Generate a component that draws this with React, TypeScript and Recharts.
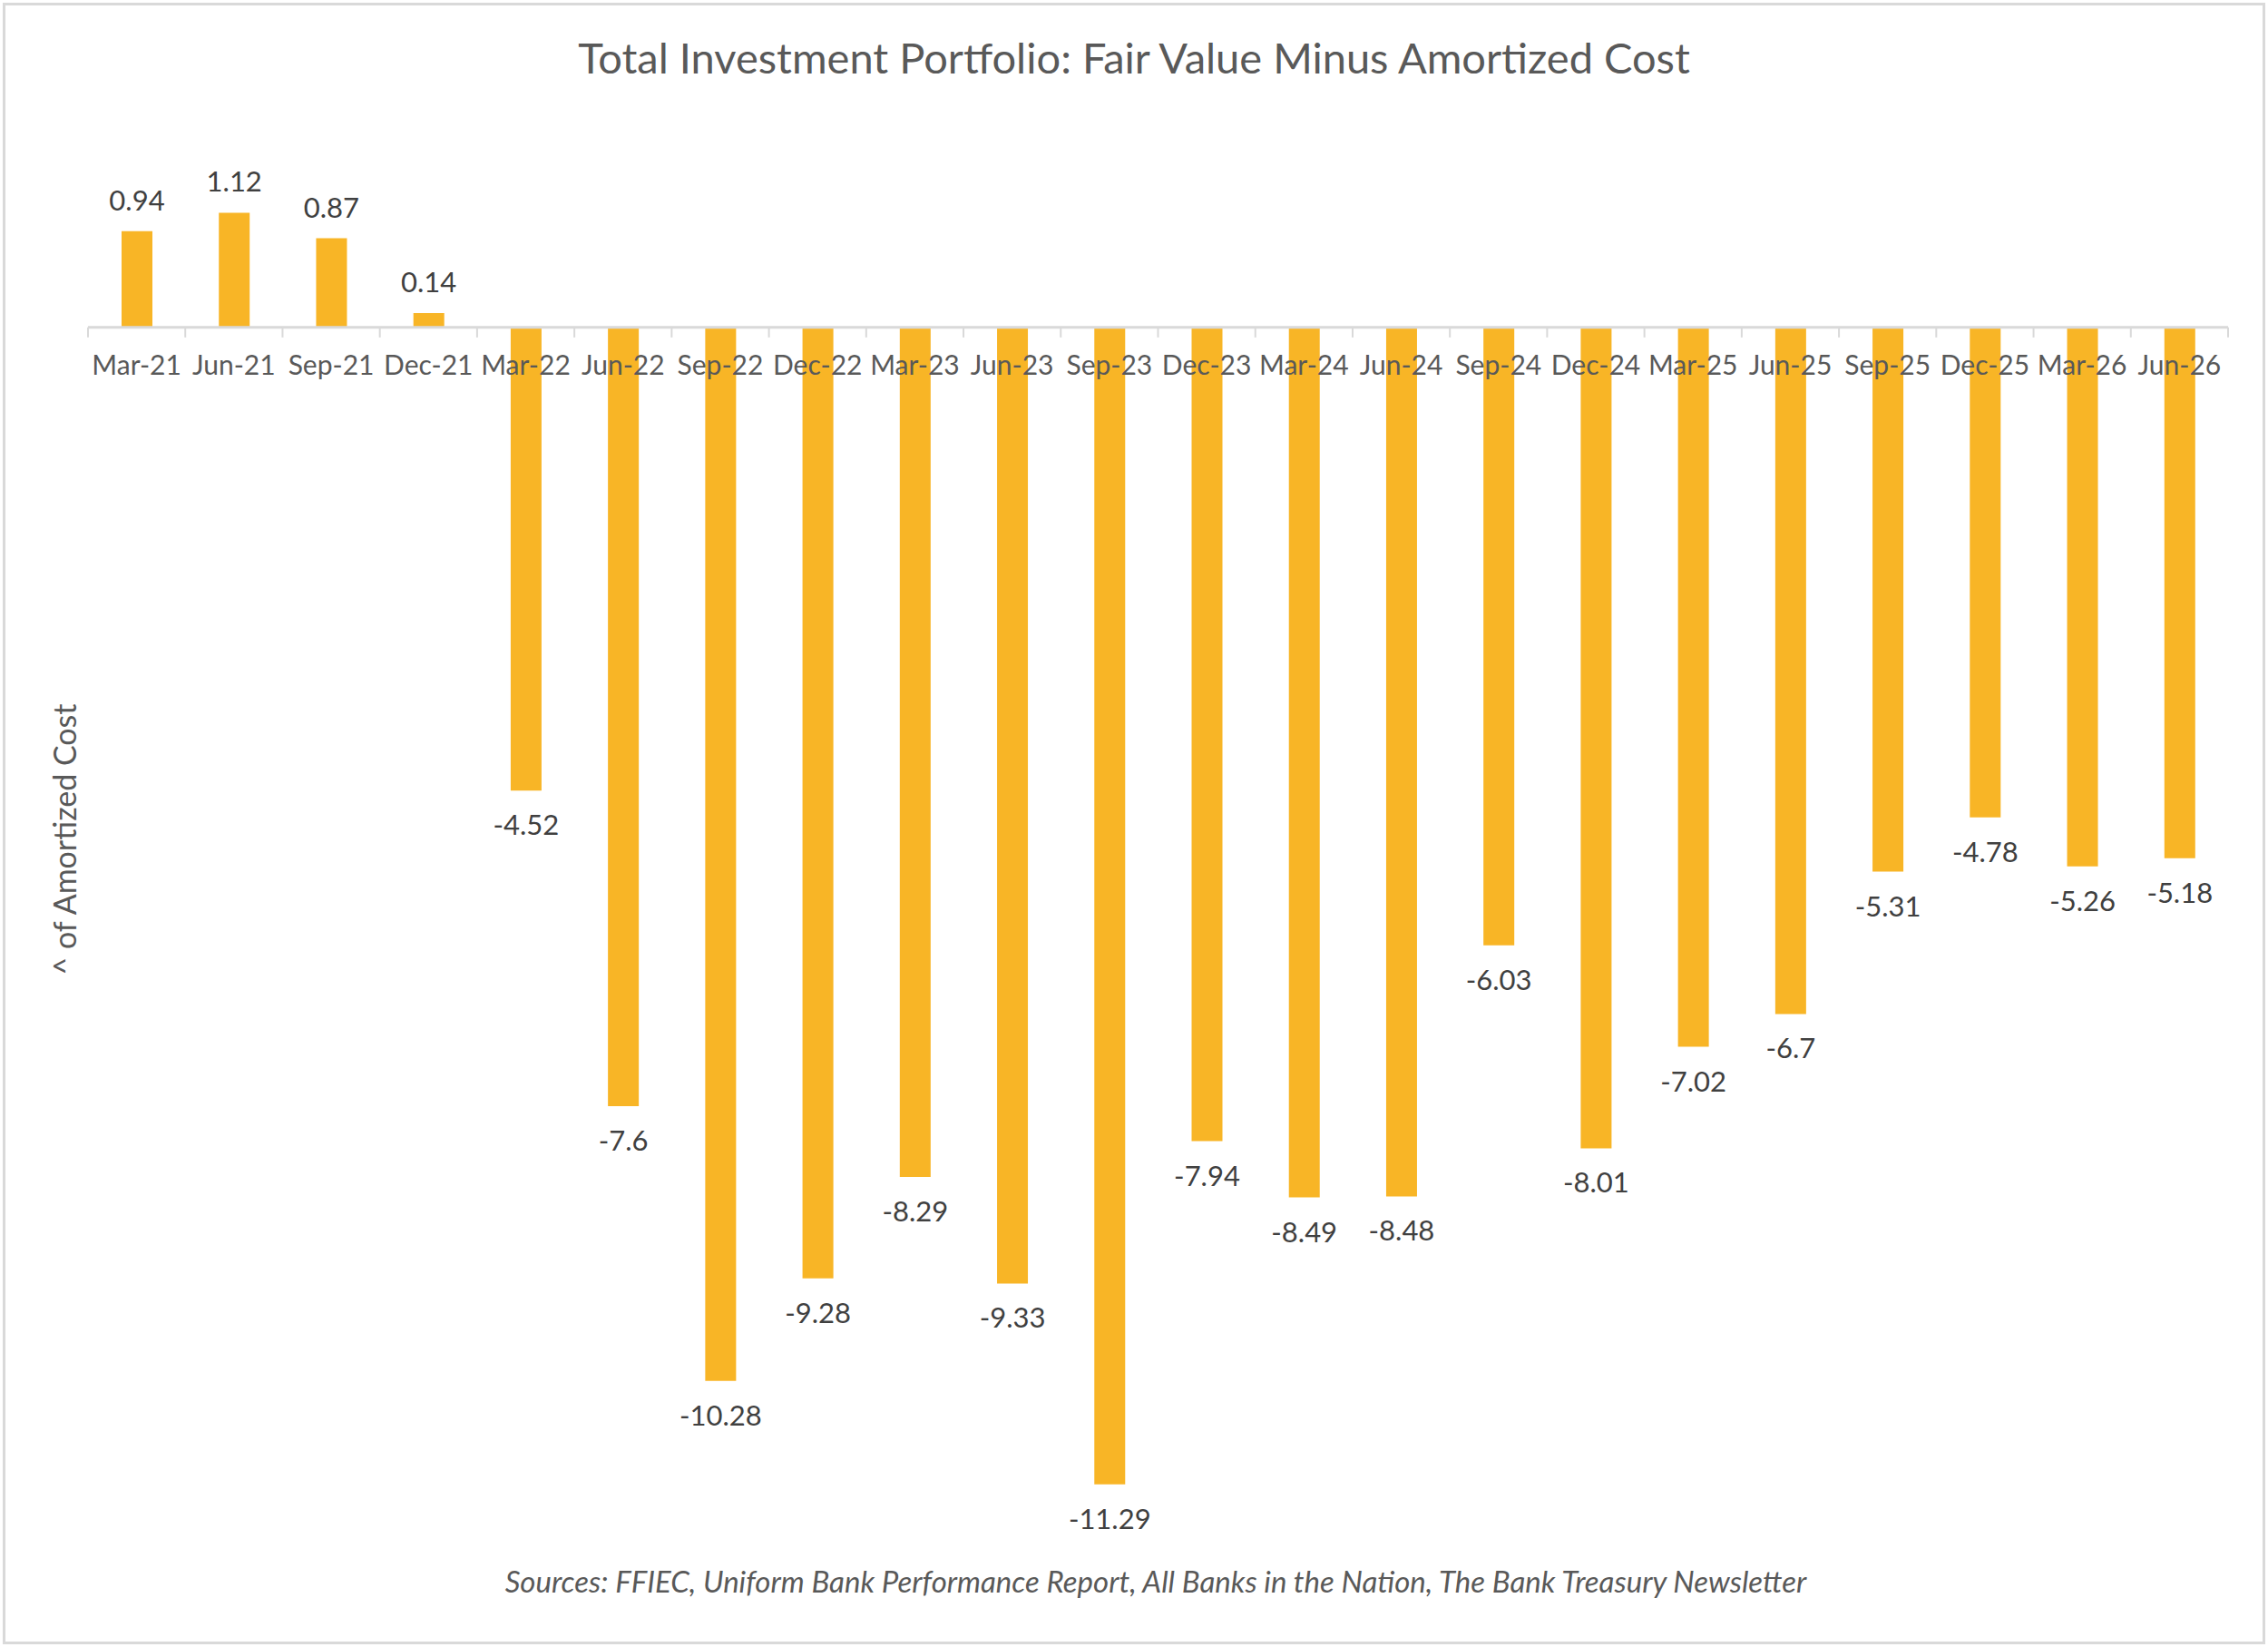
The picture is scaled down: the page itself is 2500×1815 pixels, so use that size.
import React from "react";
import { BarChart, Bar, XAxis, YAxis, ReferenceLine, LabelList } from "recharts";

const quarters = [
  "Mar-21", "Jun-21", "Sep-21", "Dec-21",
  "Mar-22", "Jun-22", "Sep-22", "Dec-22",
  "Mar-23", "Jun-23", "Sep-23", "Dec-23",
  "Mar-24", "Jun-24", "Sep-24", "Dec-24",
  "Mar-25", "Jun-25", "Sep-25", "Dec-25",
  "Mar-26", "Jun-26",
];

const fairMinusCost = [
  0.94, 1.12, 0.87, 0.14,
  -4.52, -7.6, -10.28, -9.28,
  -8.29, -9.33, -11.29, -7.94,
  -8.49, -8.48, -6.03, -8.01,
  -7.02, -6.7, -5.31, -4.78,
  -5.26, -5.18,
];

const yDomain = [-12, 2];

const data = quarters.map((quarter, i) => ({ quarter, value: fairMinusCost[i] }));

// chart geometry (page is 2500x1815)
const W = 2500;
const H = 1815;
const M = { top: 135, right: 44, bottom: 99, left: 97 };
const XAXIS_H = 30;
const PLOT_W = W - M.left - M.right;
const PLOT_H = H - M.top - M.bottom;
const BAND = PLOT_W / quarters.length;
const ZERO_Y = M.top + (yDomain[1] / (yDomain[1] - yDomain[0])) * PLOT_H;

const FONT = "Lato, 'Open Sans', sans-serif";
const GREY = "#595959";
const AXIS = "#d9d9d9";
const GOLD = "#F8B526";

function QuarterTick(props: any) {
  const { x, index, payload } = props;
  const half = BAND / 2;
  return (
    <g>
      <line x1={x - half} x2={x - half} y1={ZERO_Y} y2={ZERO_Y + 11} stroke={AXIS} strokeWidth={2} />
      {index === quarters.length - 1 && (
        <line x1={x + half} x2={x + half} y1={ZERO_Y} y2={ZERO_Y + 11} stroke={AXIS} strokeWidth={2} />
      )}
      <text x={x} y={ZERO_Y + 52} textAnchor="middle" fill={GREY} fontSize={30} fontFamily={FONT}>
        {payload.value}
      </text>
    </g>
  );
}

function ValueLabel(props: any) {
  const { x, y, width, height, value } = props;
  const top = Math.min(y, y + height);
  const bottom = Math.max(y, y + height);
  const cy = value >= 0 ? top - 35 : bottom + 37;
  return (
    <text
      x={x + width / 2}
      y={cy}
      textAnchor="middle"
      dominantBaseline="central"
      fill="#404040"
      fontSize={31}
      fontFamily={FONT}
    >
      {value}
    </text>
  );
}

export default function App() {
  return (
    <div style={{ position: "absolute", left: 0, top: 0, width: W, height: H, background: "#fff" }}>
      <div
        style={{
          position: "absolute",
          left: 3,
          top: 3,
          width: W - 12,
          height: H - 12,
          border: `3px solid ${AXIS}`,
        }}
      />
      <div
        style={{
          position: "absolute",
          left: 0,
          top: 35,
          width: W,
          textAlign: "center",
          fontFamily: FONT,
          fontSize: 47,
          color: GREY,
          lineHeight: "56px",
        }}
      >
        Total Investment Portfolio: Fair Value Minus Amortized Cost
      </div>
      <div
        style={{
          position: "absolute",
          left: 71 - 300,
          top: 925 - 20,
          width: 600,
          height: 40,
          lineHeight: "40px",
          textAlign: "center",
          transform: "rotate(-90deg)",
          fontFamily: FONT,
          fontSize: 34,
          color: GREY,
        }}
      >
        ^ of Amortized Cost
      </div>
      <div
        style={{
          position: "absolute",
          left: 0,
          top: 1722,
          width: W + 48,
          textAlign: "center",
          fontFamily: FONT,
          fontStyle: "italic",
          fontSize: 33,
          color: GREY,
          lineHeight: "40px",
        }}
      >
        Sources: FFIEC, Uniform Bank Performance Report, All Banks in the Nation, The Bank Treasury Newsletter
      </div>
      <div style={{ position: "absolute", left: 0, top: 0 }}>
        <BarChart
          width={W}
          height={H}
          data={data}
          margin={{ top: M.top, right: M.right, bottom: M.bottom - XAXIS_H, left: M.left }}
        >
          <XAxis
            dataKey="quarter"
            height={XAXIS_H}
            axisLine={false}
            tickLine={false}
            interval={0}
            tick={<QuarterTick />}
          />
          <YAxis hide domain={yDomain} />
          <Bar dataKey="value" fill={GOLD} barSize={34} isAnimationActive={false}>
            <LabelList dataKey="value" content={<ValueLabel />} />
          </Bar>
          <ReferenceLine y={0} stroke={AXIS} strokeWidth={3} />
        </BarChart>
      </div>
    </div>
  );
}
